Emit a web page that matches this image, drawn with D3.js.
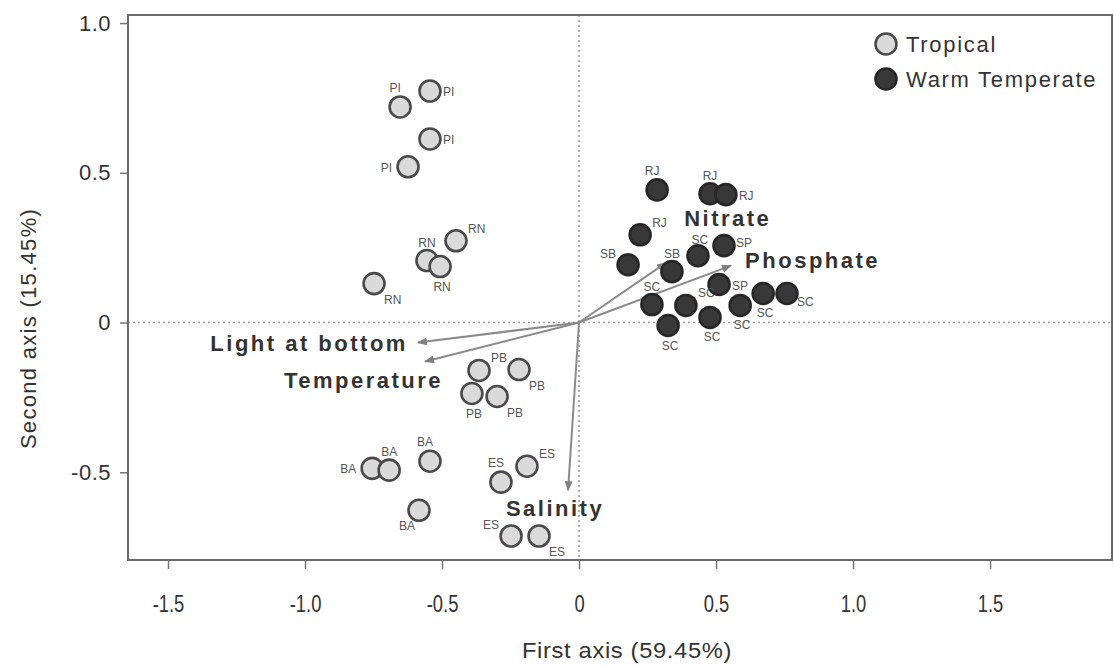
<!DOCTYPE html>
<html>
<head>
<meta charset="utf-8">
<script src="https://cdn.jsdelivr.net/npm/d3@7/dist/d3.min.js"></script>
<style>
  html, body { margin: 0; padding: 0; background: #fff; }
  svg { display: block; }
  text { font-family: "Liberation Sans", Arial, Helvetica, sans-serif; }
</style>
</head>
<body>
<svg id="chart" width="1114" height="668"></svg>
<script>
// ---------------- DATA ----------------
const sites = [
  "PI","PI","PI","PI",
  "RN","RN","RN","RN",
  "PB","PB","PB","PB",
  "BA","BA","BA","BA",
  "ES","ES","ES","ES",
  "RJ","RJ","RJ","RJ",
  "SB","SB","SC","SP","SP",
  "SC","SC","SC","SC","SC","SC","SC"
];
const groups = [
  "Tropical","Tropical","Tropical","Tropical",
  "Tropical","Tropical","Tropical","Tropical",
  "Tropical","Tropical","Tropical","Tropical",
  "Tropical","Tropical","Tropical","Tropical",
  "Tropical","Tropical","Tropical","Tropical",
  "Warm Temperate","Warm Temperate","Warm Temperate","Warm Temperate",
  "Warm Temperate","Warm Temperate","Warm Temperate","Warm Temperate","Warm Temperate",
  "Warm Temperate","Warm Temperate","Warm Temperate","Warm Temperate","Warm Temperate","Warm Temperate","Warm Temperate"
];
const axis1 = [
  -0.653, -0.544, -0.544, -0.624,
  -0.449, -0.555, -0.507, -0.748,
  -0.365, -0.219, -0.391, -0.299,
  -0.755, -0.693, -0.544, -0.584,
  -0.285, -0.190, -0.248, -0.146,
  0.285, 0.478, 0.536, 0.223,
  0.179, 0.339, 0.434, 0.529, 0.511,
  0.266, 0.390, 0.325, 0.478, 0.588, 0.672, 0.759
];
const axis2 = [
  0.720, 0.773, 0.613, 0.520,
  0.273, 0.207, 0.187, 0.130,
  -0.160, -0.157, -0.237, -0.247,
  -0.487, -0.493, -0.463, -0.627,
  -0.533, -0.480, -0.713, -0.713,
  0.443, 0.430, 0.427, 0.293,
  0.193, 0.170, 0.223, 0.257, 0.127,
  0.060, 0.057, -0.010, 0.017, 0.057, 0.097, 0.097
];
const variables = ["Light at bottom","Temperature","Salinity","Nitrate","Phosphate"];
const vecX = [-0.588, -0.562, -0.040, 0.318, 0.555];
const vecY = [-0.067, -0.130, -0.560, 0.200, 0.190];

const groupNames = ["Tropical","Warm Temperate"];
const xTicks = [-1.5,-1.0,-0.5,0,0.5,1.0,1.5];
const yTicks = [-0.5,0,0.5,1.0];
const xTickLabels = ["-1.5","-1.0","-0.5","0","0.5","1.0","1.5"];
const yTickLabels = ["-0.5","0","0.5","1.0"];
const xTitle = "First axis (59.45%)";
const yTitle = "Second axis (15.45%)";

// ---------------- LAYOUT / STYLE ----------------
// label placement code per point (style only)
const labelAt = [
  "tl","r","r","l",
  "tr","t","b","br",
  "tr","br","b","br",
  "l","t","tl","bl",
  "tl","tr","lt","br",
  "tl","t","r","tr",
  "lt","t","t2","rt","r",
  "t","tr","b","b","b","b","rb"
];
const labelOffsets = {
  t: [0,-14,"middle"], t2: [2,-12,"middle"], b:[2,24,"middle"], l:[-16,5,"end"], r:[13,5,"start"],
  tl:[-5,-15,"middle"], tr:[12,-8,"start"], bl:[-12,20,"middle"], br:[10,20,"start"],
  lt:[-12,-7,"end"], rb:[10,13,"start"], rt:[12,1,"start"]
};
const vecLabel = [
  {dx:-10, dy:8, anchor:"end"},
  {dx:18, dy:27, anchor:"end"},
  {dx:-13, dy:26, anchor:"middle"},
  {dx:18, dy:-37, anchor:"start"},
  {dx:14, dy:2, anchor:"start"}
];

const W = 1114, H = 668;
const L = 128, R = 1112, T = 15, B = 560;
const svg = d3.select("#chart");

const x = d3.scaleLinear().domain([-1.646, 1.945]).range([L, R]);
const y = d3.scaleLinear().domain([-0.793, 1.027]).range([B, T]);

const fillColor = d3.scaleOrdinal().domain(groupNames).range(["#dadada","#383838"]);
const strokeColor = d3.scaleOrdinal().domain(groupNames).range(["#4a4a4a","#262626"]);

// dotted reference lines
svg.append("line").attr("x1", x(0)).attr("x2", x(0)).attr("y1", T).attr("y2", B)
  .attr("stroke", "#9a9a9a").attr("stroke-width", 1.6).attr("stroke-dasharray", "2,3");
svg.append("line").attr("x1", L).attr("x2", R).attr("y1", y(0)).attr("y2", y(0))
  .attr("stroke", "#9a9a9a").attr("stroke-width", 1.6).attr("stroke-dasharray", "2,3");

// axes
const xAxis = d3.axisBottom(x).tickValues(xTicks).tickSize(9).tickPadding(27)
  .tickFormat((d,i) => xTickLabels[i]);
const yAxis = d3.axisLeft(y).tickValues(yTicks).tickSize(8).tickPadding(9)
  .tickFormat((d,i) => yTickLabels[i]);

const gx = svg.append("g").attr("transform", `translate(0,${B})`).call(xAxis);
const gy = svg.append("g").attr("transform", `translate(${L},0)`).call(yAxis);
[gx, gy].forEach(g => {
  g.select(".domain").remove();
  g.selectAll(".tick line").attr("stroke", "#777").attr("stroke-width", 1.5);
  g.selectAll(".tick text").attr("fill", "#333");
});
gx.selectAll(".tick text").style("font-size", "23px").attr("transform", "scale(0.8,1)");
gy.selectAll(".tick text").style("font-size", "22px").attr("letter-spacing", "0.5px");

// frame
svg.append("rect").attr("x", L).attr("y", T).attr("width", R - L).attr("height", B - T)
  .attr("fill", "none").attr("stroke", "#6a6a6a").attr("stroke-width", 2);

// axis titles
svg.append("text").attr("x", 627).attr("y", 658).attr("text-anchor", "middle")
  .style("font-size", "22px").attr("fill", "#333").attr("letter-spacing", "0.6px")
  .attr("transform", "translate(627,0) scale(1.08,1) translate(-627,0)")
  .text(xTitle);
svg.append("text").attr("transform", `translate(36,${(205+452)/2}) rotate(-90)`)
  .attr("text-anchor", "middle").style("font-size", "22px").attr("fill", "#333")
  .attr("letter-spacing", "1.3px")
  .text(yTitle);

// vectors
const defs = svg.append("defs");
defs.append("marker").attr("id", "arrow").attr("viewBox", "0 0 10 10")
  .attr("refX", 9).attr("refY", 5).attr("markerWidth", 5).attr("markerHeight", 5)
  .attr("orient", "auto-start-reverse").attr("markerUnits", "strokeWidth")
  .append("path").attr("d", "M0,1 L10,5 L0,9 Z").attr("fill", "#7f7f7f");

const vecs = variables.map((v, i) => ({name: v, vx: vecX[i], vy: vecY[i], lab: vecLabel[i]}));
svg.append("g").selectAll("line").data(vecs).join("line")
  .attr("x1", x(0)).attr("y1", y(0))
  .attr("x2", d => x(d.vx)).attr("y2", d => y(d.vy))
  .attr("stroke", "#8a8a8a").attr("stroke-width", 2)
  .attr("marker-end", "url(#arrow)");

// points
const pts = sites.map((s, i) => ({site: s, group: groups[i], a1: axis1[i], a2: axis2[i], pos: labelAt[i]}));
const gp = svg.append("g");
gp.selectAll("circle").data(pts).join("circle")
  .attr("cx", d => x(d.a1)).attr("cy", d => y(d.a2)).attr("r", 10.5)
  .attr("fill", d => fillColor(d.group)).attr("stroke", d => strokeColor(d.group))
  .attr("stroke-width", 2.6);

svg.append("g").selectAll("text").data(pts).join("text")
  .attr("x", d => x(d.a1) + labelOffsets[d.pos][0])
  .attr("y", d => y(d.a2) + labelOffsets[d.pos][1])
  .attr("text-anchor", d => labelOffsets[d.pos][2])
  .style("font-size", "12px").attr("fill", "#555")
  .text(d => d.site);

// vector labels
svg.append("g").selectAll("text").data(vecs).join("text")
  .attr("x", d => x(d.vx) + d.lab.dx).attr("y", d => y(d.vy) + d.lab.dy)
  .attr("text-anchor", d => d.lab.anchor)
  .style("font-size", "22px").style("font-weight", "bold").attr("fill", "#333")
  .attr("letter-spacing", "2.5px")
  .text(d => d.name);

// legend
const lg = svg.append("g");
groupNames.forEach((g, i) => {
  const cy = 44 + i * 35;
  lg.append("circle").attr("cx", 886).attr("cy", cy).attr("r", 10.5)
    .attr("fill", fillColor(g)).attr("stroke", strokeColor(g)).attr("stroke-width", 2.6);
  lg.append("text").attr("x", 906).attr("y", cy + 8).style("font-size", "22px")
    .attr("fill", "#333").attr("letter-spacing", "1.7px").text(g);
});
</script>
</body>
</html>
